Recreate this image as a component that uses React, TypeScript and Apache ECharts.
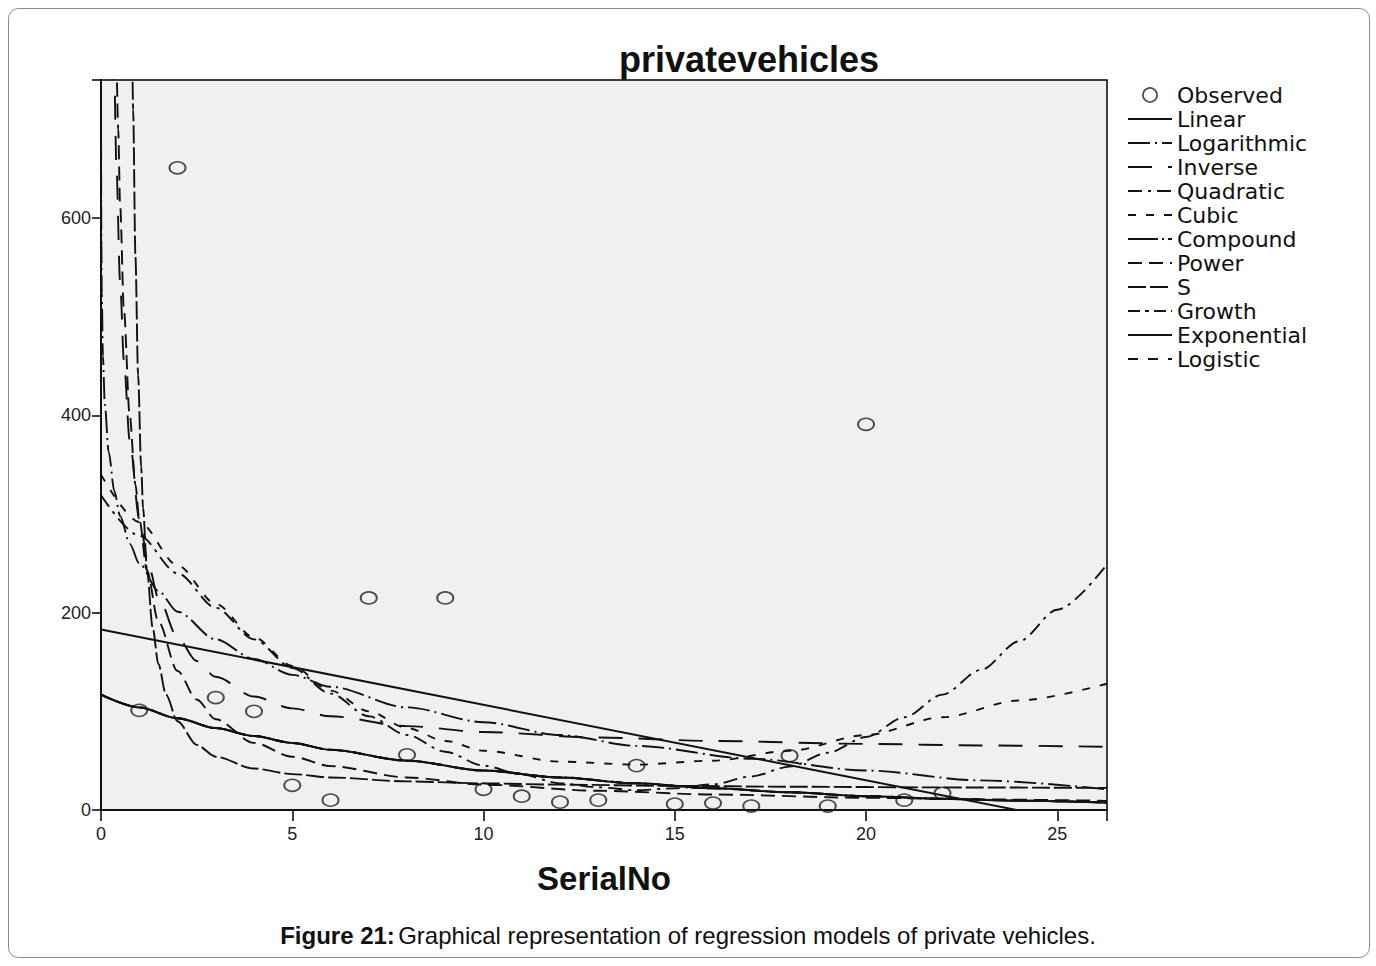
import React, { useEffect, useRef } from "react";
import * as echarts from "echarts";

// ---------- data ----------
const xTicks = [0, 5, 10, 15, 20, 25];
const yTicks = [0, 200, 400, 600];

const observedX = [1, 2, 3, 4, 5, 6, 7, 8, 9, 10, 11, 12, 13, 14, 15, 16, 17, 18, 19, 20, 21, 22];
const observedY = [101, 651, 114, 100, 25, 10, 215, 56, 215, 21, 14, 8, 10, 45, 6, 7, 4, 55, 4, 391, 10, 17];

const linearX = [0, 26.3];
const linearY = [183, -18];

const logX = [0.0008, 0.002, 0.005, 0.01, 0.02, 0.05, 0.1, 0.2, 0.35, 0.5, 0.75, 1, 1.5, 2, 3, 4, 5, 6, 8, 10, 12, 14, 17, 20, 23, 26.3];
const logY = [749, 685, 621, 572, 524, 460, 411, 363, 323, 298, 270, 250, 222, 201, 173, 153, 137, 125, 104, 89, 76, 65, 52, 40, 30, 21];

const inverseX = [0.32, 0.35, 0.4, 0.5, 0.6, 0.75, 1, 1.25, 1.5, 2, 2.5, 3, 4, 5, 6, 8, 10, 13, 16, 20, 23, 26.3];
const inverseY = [805, 741, 655, 535, 455, 375, 295, 247, 215, 175, 151, 135, 115, 103, 95, 85, 79, 73.5, 70, 67, 65.4, 64.1];

const quadX = [0, 1, 2, 3, 4, 5, 6, 7, 8, 9, 10, 11, 12, 13, 14, 15, 16, 17, 18, 19, 20, 21, 22, 23, 24, 25, 26.3];
const quadY = [319, 278, 240, 205, 173, 144, 118, 95, 76, 59, 45, 36, 27, 23, 20, 22, 26, 34, 44, 58, 74, 94, 117, 142, 171, 203, 249];

const cubicX = [0, 1, 2, 3, 4, 5, 6, 7, 8, 9, 10, 12, 14, 16, 18, 20, 22, 24, 26.3];
const cubicY = [340, 292, 248, 209, 175, 146, 121, 100, 83, 70, 60, 49, 46, 50, 60, 76, 94, 111, 128];

const compoundX = [0, 1, 2, 3, 4, 5, 6, 8, 10, 12, 14, 16, 18, 20, 22, 24, 26.3];
const compoundY = [117, 104, 93, 83, 75, 68, 61, 50, 40, 33, 27, 22, 18, 14, 11.5, 9.5, 7.5];

const powerX = [0.4, 0.45, 0.5, 0.6, 0.75, 0.9, 1, 1.2, 1.5, 2, 2.5, 3, 4, 5, 6, 8, 10, 13, 16, 20, 23, 26.3];
const powerY = [780, 690, 613, 506, 400, 330, 295, 243, 191, 141, 112, 92, 68, 54, 44.5, 33, 25.7, 19.5, 15.7, 12.4, 10.7, 9.3];

const sX = [0.8, 0.84, 0.9, 0.97, 1.05, 1.1, 1.2, 1.35, 1.5, 1.7, 2, 2.5, 3, 4, 5, 6, 8, 10, 12, 15, 18, 22, 26.3];
const sY = [850, 710, 561, 441, 348, 306, 244, 185, 148, 117, 90, 66, 54, 42, 36.4, 33, 29, 27, 25.7, 24.4, 23.6, 22.9, 22.4];

const growthX = compoundX;
const growthY = [117, 104, 93, 83, 75, 68, 61, 50, 40, 33, 27, 22, 18, 14, 11.5, 9.5, 7.5];
const exponentialX = compoundX;
const exponentialY = [117, 104, 93, 83, 75, 68, 61, 50, 40, 33, 27, 22, 18, 14, 11.5, 9.5, 7.5];
const logisticX = compoundX;
const logisticY = [117, 104, 93, 83, 75, 68, 61, 50, 40, 33, 27, 22, 18, 14, 11.5, 9.5, 7.5];

const legendNames = ["Observed", "Linear", "Logarithmic", "Inverse", "Quadratic", "Cubic", "Compound", "Power", "S", "Growth", "Exponential", "Logistic"];

const pairs = (xs: number[], ys: number[]) => xs.map((x, i) => [x, ys[i]]);

const INK = "#111";

function lineSeries(name: string, xs: number[], ys: number[], dash: number[] | "solid", width = 1.9) {
  return {
    name,
    type: "line",
    data: pairs(xs, ys),
    symbol: "none",
    showSymbol: false,
    smooth: 0.3,
    smoothMonotone: "x",
    clip: true,
    silent: true,
    lineStyle: { color: INK, width, type: dash },
    itemStyle: { color: INK },
  };
}

export default function App() {
  const ref = useRef<HTMLDivElement>(null);

  useEffect(() => {
    if (!ref.current) return;
    const chart = echarts.init(ref.current, undefined, { renderer: "svg" });
    const option: any = {
      animation: false,
      backgroundColor: "#ffffff",
      grid: {
        left: 101,
        top: 80,
        width: 1006,
        height: 730,
        show: true,
        backgroundColor: "#f0f0f0",
        borderColor: "#000",
        borderWidth: 1.5,
        containLabel: false,
      },
      xAxis: {
        type: "value",
        min: 0,
        max: 26.3,
        interval: 5,
        name: "SerialNo",
        nameLocation: "middle",
        nameGap: 52,
        nameTextStyle: { fontFamily: "Liberation Sans", fontWeight: "bold", fontSize: 33, color: "#111" },
        axisLine: { show: true, onZero: false, lineStyle: { color: "#000", width: 1.5 } },
        axisTick: { show: true, length: 11, lineStyle: { color: "#000", width: 1.5 } },
        axisLabel: {
          fontFamily: "Liberation Sans",
          fontSize: 18,
          color: "#222",
          margin: 15,
          formatter: (v: number) => (xTicks.includes(v) ? String(v) : ""),
        },
        splitLine: { show: false },
      },
      yAxis: {
        type: "value",
        min: 0,
        max: 740,
        interval: 200,
        axisLine: { show: true, lineStyle: { color: "#000", width: 1.5 } },
        axisTick: { show: true, length: 9, lineStyle: { color: "#000", width: 1.5 } },
        axisLabel: {
          fontFamily: "Liberation Sans",
          fontSize: 18,
          color: "#222",
          margin: 10,
          formatter: (v: number) => (yTicks.includes(v) ? String(v) : ""),
        },
        splitLine: { show: false },
      },
      legend: {
        orient: "vertical",
        left: 1127,
        top: 84,
        itemWidth: 44,
        itemHeight: 14,
        itemGap: 2,
        padding: 0,
        selectedMode: false,
        itemStyle: { color: "transparent", borderColor: "transparent", borderWidth: 0 },
        textStyle: { fontFamily: "DejaVu Sans", fontSize: 22, color: "#111" },
        data: legendNames.map((n) =>
          n === "Observed"
            ? { name: n, icon: "circle", itemStyle: { color: "transparent", borderColor: "#222", borderWidth: 1.8 } }
            : { name: n }
        ),
      },
      graphic: [
        {
          type: "rect",
          shape: { x: 8.5, y: 8.5, width: 1361, height: 949, r: 10 },
          style: { fill: "none", stroke: "#8a8a8a", lineWidth: 1 },
          silent: true,
        },
        {
          type: "text",
          x: 749,
          y: 59,
          style: {
            text: "privatevehicles",
            fontFamily: "Liberation Sans",
            fontWeight: "bold",
            fontSize: 36,
            fill: "#111",
            textAlign: "center",
            textVerticalAlign: "middle",
          },
        },
        {
          type: "text",
          x: 688,
          y: 935,
          style: {
            text: "{b|Figure 21:} {n|Graphical representation of regression models of private vehicles.}",
            textAlign: "center",
            textVerticalAlign: "middle",
            rich: {
              b: { fontFamily: "Liberation Sans", fontWeight: "bold", fontSize: 24, fill: "#111" },
              n: { fontFamily: "Liberation Sans", fontSize: 24, fill: "#111" },
            },
          },
        },
      ],
      series: [
        {
          name: "Observed",
          type: "scatter",
          data: pairs(observedX, observedY),
          symbol: "circle",
          symbolSize: [16, 12],
          silent: true,
          itemStyle: { color: "transparent", borderColor: "#222", borderWidth: 1.8 },
        },
        lineSeries("Linear", linearX, linearY, "solid", 2),
        lineSeries("Logarithmic", logX, logY, [22, 5, 2, 5]),
        lineSeries("Inverse", inverseX, inverseY, [24, 16]),
        lineSeries("Quadratic", quadX, quadY, [14, 6, 3, 6]),
        lineSeries("Cubic", cubicX, cubicY, [8, 10]),
        lineSeries("Compound", compoundX, compoundY, [30, 4, 2, 4]),
        lineSeries("Power", powerX, powerY, [14, 7]),
        lineSeries("S", sX, sY, [18, 4]),
        lineSeries("Growth", growthX, growthY, [12, 5, 4, 5]),
        lineSeries("Exponential", exponentialX, exponentialY, "solid", 2),
        lineSeries("Logistic", logisticX, logisticY, [10, 10]),
      ],
    };
    chart.setOption(option);
    return () => chart.dispose();
  }, []);

  return (
    <div
      ref={ref}
      style={{ position: "fixed", left: 0, top: 0, width: 1376, height: 966, background: "#fff" }}
    />
  );
}
